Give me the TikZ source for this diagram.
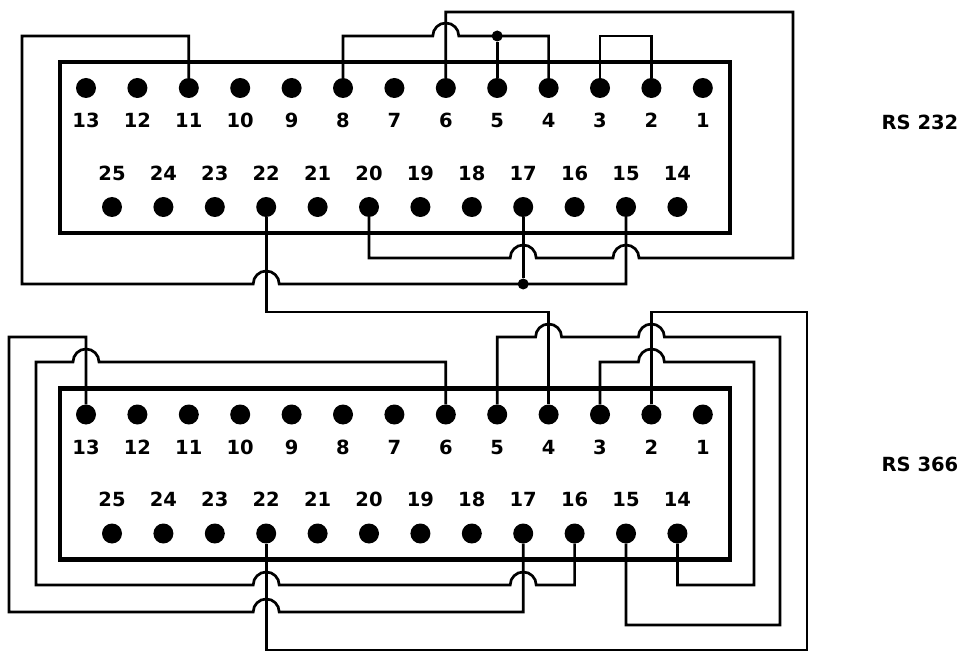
\documentclass[tikz,border=0pt]{standalone}
\usepackage{fontspec}
\setmainfont{DejaVu Sans}
\usepackage{tikz}

\begin{document}
\begin{tikzpicture}[x=1pt,y=-1pt,
    pin/.style={circle,fill=black,inner sep=0pt,minimum size=20pt},
    joint/.style={circle,fill=black,inner sep=0pt,minimum size=11pt},
    num/.style={inner sep=1pt,text height=14.2pt,text depth=0pt,
      font=\fontsize{19.5}{24}\selectfont\bfseries},
    wire/.style={line width=2.7pt},
    frame/.style={line width=4.5pt}]
   \useasboundingbox (0,0) rectangle (964,652);
   % the two 25 pin connectors
   \foreach \c/\y in {a/0,b/326.5} {
     \draw[frame] (60,62+\y) rectangle (730,233+\y);
     \foreach \n in {1,...,13} {
       \node[pin] (\c\n) at ({86+51.4*(13-\n)},88+\y) {};
       \node[num] (l\c\n) at ({86+51.4*(13-\n)},120.5+\y) {\n};
     }
     \foreach \n in {14,...,25} {
       \node[pin] (\c\n) at ({112+51.4*(25-\n)},207+\y) {};
       \node[num] (l\c\n) at ({112+51.4*(25-\n)},173+\y) {\n};
     }
   }
   \node[num] (rs232) at (920,122.5) {RS 232};
   \node[num] (rs366) at (920,464) {RS 366};
   % RS 232 wiring
   \node[joint] (j1) at (a5 |- 0,36) {};
   \node[joint] (j2) at (a17 |- 0,284) {};
   \draw[wire] (a8) |- (432.8,36) arc[start angle=180,end angle=360,radius=13] -| (a4);
   \draw[wire] (a5) -- (j1);
   \draw[wire] (a3) -- (a3 |- 0,36) -| (a2);
   \draw[wire] (a6) |- (793,12) -- (793,258) -- (639,258)
      arc[start angle=0,end angle=-180,radius=13] -- (536.2,258)
      arc[start angle=0,end angle=-180,radius=13] -| (a20);
   \draw[wire] (a11) |- (22,36) |- (253.2,284)
      arc[start angle=180,end angle=360,radius=13] -| (a15);
   \draw[wire] (a17) -- (j2);
   % RS 232 to RS 366
   \draw[wire] (a22) -- (a22 |- 0,312) -| (b4);
   % RS 366 wiring
   \draw[wire] (b13) |- (9,337) |- (253.2,612)
      arc[start angle=180,end angle=360,radius=13] -| (b17);
   \draw[wire] (b16) |- (536.2,585) arc[start angle=0,end angle=-180,radius=13]
      -- (279.2,585) arc[start angle=0,end angle=-180,radius=13]
      -- (36,585) |- (73,362) arc[start angle=180,end angle=360,radius=13] -| (b6);
   \draw[wire] (b5) |- (535.6,337) arc[start angle=180,end angle=360,radius=13]
      -- (638.4,337) arc[start angle=180,end angle=360,radius=13]
      -- (780,337) -- (780,625) -| (b15);
   \draw[wire] (b3) |- (638.4,362) arc[start angle=180,end angle=360,radius=13]
      -- (754,362) -- (754,585) -| (b14);
   \draw[wire] (b2) |- (807,312) -- (807,650) -| (b22);
\end{tikzpicture}
\end{document}
